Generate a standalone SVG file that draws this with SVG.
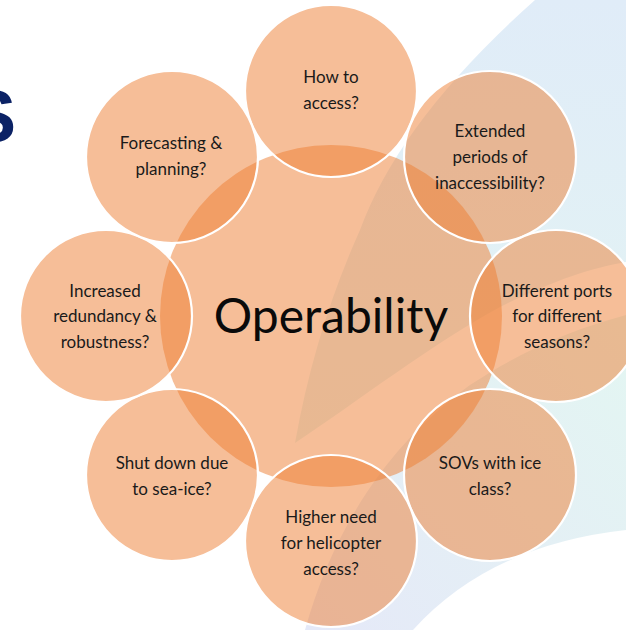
<svg xmlns="http://www.w3.org/2000/svg" width="626" height="630" viewBox="0 0 626 630">
  <defs>
    <linearGradient id="bgA" x1="0" y1="0" x2="0" y2="1">
      <stop offset="0" stop-color="#E0ECF8"/>
      <stop offset="1" stop-color="#E3F4F3"/>
    </linearGradient>
    <linearGradient id="bgB" gradientUnits="userSpaceOnUse" x1="320" y1="630" x2="626" y2="330">
      <stop offset="0" stop-color="#E5E9F8"/>
      <stop offset="1" stop-color="#E3F6F2"/>
    </linearGradient>
  </defs>
  <style>
    .ring { fill: #ED7D31; fill-opacity: 0.5; stroke: #FFFFFF; stroke-width: 2.2; }
    .hub { fill: #ED7D31; fill-opacity: 0.5; stroke: none; }
    .lbl { font-family: Lato, "Open Sans", "Liberation Sans", sans-serif; font-size: 17px; fill: #1A1A1A; text-anchor: middle; }
    .title { font-family: Lato, "Open Sans", "Liberation Sans", sans-serif; font-size: 48px; fill: #0A0A0A; text-anchor: middle; }
  </style>
  <rect x="0" y="0" width="626" height="630" fill="#FFFFFF"/>
  <g id="background">
    <path d="M535,0 Q400,120 360,230 Q315,330 295,443 C360,400 430,345 500,307 C550,282 590,268 626,262 L626,0 Z" fill="url(#bgA)"/>
    <path d="M305,630 C330,540 380,450 470,385 C520,352 570,330 626,315 L626,530 Q490,545 413,630 Z" fill="url(#bgB)"/>
    <text x="16" y="142" font-family="Liberation Sans, Arial, sans-serif" font-size="74" font-weight="bold" fill="#0B2265" text-anchor="end">S</text>
  </g>
  <g id="hub">
    <circle class="hub" cx="331" cy="316" r="171"/>
    <text class="title" x="331" y="333">Operability</text>
  </g>
  <g id="n-access">
    <circle class="ring" cx="331" cy="91" r="86"/>
    <text class="lbl" x="331" y="83">How to</text>
    <text class="lbl" x="331" y="109">access?</text>
  </g>
  <g id="n-extended">
    <circle class="ring" cx="490" cy="157" r="86"/>
    <text class="lbl" x="490" y="137">Extended</text>
    <text class="lbl" x="490" y="163">periods of</text>
    <text class="lbl" x="490" y="189">inaccessibility?</text>
  </g>
  <g id="n-ports">
    <circle class="ring" cx="556" cy="316" r="86"/>
    <text class="lbl" x="557" y="297">Different ports</text>
    <text class="lbl" x="557" y="322">for different</text>
    <text class="lbl" x="557" y="348">seasons?</text>
  </g>
  <g id="n-sovs">
    <circle class="ring" cx="490" cy="475" r="86"/>
    <text class="lbl" x="490" y="469">SOVs with ice</text>
    <text class="lbl" x="490" y="495">class?</text>
  </g>
  <g id="n-helicopter">
    <circle class="ring" cx="331" cy="541" r="86"/>
    <text class="lbl" x="331" y="523">Higher need</text>
    <text class="lbl" x="331" y="549">for helicopter</text>
    <text class="lbl" x="331" y="575">access?</text>
  </g>
  <g id="n-seaice">
    <circle class="ring" cx="172" cy="475" r="86"/>
    <text class="lbl" x="172" y="469">Shut down due</text>
    <text class="lbl" x="172" y="495">to sea-ice?</text>
  </g>
  <g id="n-redundancy">
    <circle class="ring" cx="106" cy="316" r="86"/>
    <text class="lbl" x="105" y="297">Increased</text>
    <text class="lbl" x="105" y="322">redundancy &amp;</text>
    <text class="lbl" x="105" y="348">robustness?</text>
  </g>
  <g id="n-forecasting">
    <circle class="ring" cx="172" cy="157" r="86"/>
    <text class="lbl" x="171" y="149">Forecasting &amp;</text>
    <text class="lbl" x="171" y="175">planning?</text>
  </g>
</svg>
